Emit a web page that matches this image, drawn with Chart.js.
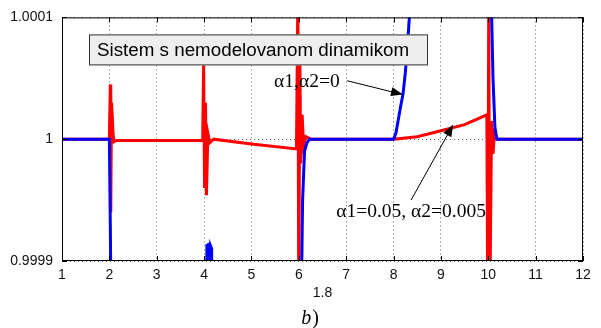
<!DOCTYPE html>
<html lang="sr">
<head>
<meta charset="UTF-8">
<title>Sistem s nemodelovanom dinamikom</title>
<script src="https://cdn.jsdelivr.net/npm/chart.js@4.4.1/dist/chart.umd.min.js"></script>
<style>
    body { margin: 0; background: #fff; }
    #wrap { position: relative; width: 601px; height: 328px; }
</style>
</head>
<body>
<div id="wrap"><canvas id="myChart"></canvas></div>
<script>
// axis ticks
const xTicks = [1, 2, 3, 4, 5, 6, 7, 8, 9, 10, 11, 12];
const yTicks = [0.9999, 1, 1.0001];

// alpha1, alpha2 = 0 (blue)
const blueX = [1, 2.0, 2.02, 2.05, 4.04, 4.06, 4.08, 4.1, 4.12, 4.14, 4.16, 4.17,
               6.03, 6.08, 6.12, 6.17, 6.23, 7, 8.0, 8.05, 8.1, 8.15, 8.2,
               8.25, 8.3, 8.35, 10.06, 10.1, 10.14, 10.18, 11, 12];
const blueY = [1, 1, 0.99993, 0.9998, 0.9998, 0.999914, 0.9998, 0.999915, 0.9998, 0.999912, 0.99991, 0.9998,
               0.9998, 0.99995, 0.99999, 0.999997, 1, 1, 1, 1.000005, 1.000016, 1.000027, 1.000037,
               1.000055, 1.00008, 1.00011, 1.00012, 1.00005, 1.00001, 1, 1, 1];

// alpha1 = 0.05, alpha2 = 0.005 (red)
const redX = [1, 2.0, 2.02, 2.03, 2.045, 2.06, 2.08, 2.1, 2.15, 3.0, 3.97,
              3.99, 4.01, 4.03, 4.05, 4.08, 4.12, 4.2, 5.0, 5.95, 5.98,
              6.0, 6.02, 6.04, 6.07, 6.1, 6.15, 6.25, 7, 8.0, 8.5,
              9.0, 9.5, 9.97, 9.99, 10.01, 10.03, 10.07, 10.1, 10.13, 10.2,
              11, 12];
const redY = [1, 1, 1.000045, 0.99994, 1.00003, 1.00002, 1.000003, 0.999998, 0.999999, 0.999999, 0.999999,
              1.000062, 0.99996, 1.00003, 0.999954, 1.000005, 0.999997, 1.0, 0.999996, 0.999992, 1.00012,
              0.99985, 1.00008, 0.99998, 1.00002, 0.999995, 1.000002, 1, 1, 1, 1.000002,
              1.000007, 1.000012, 1.00002, 0.99985, 1.00012, 0.99985, 1.000015, 0.999988, 1.000005, 1,
              1, 1];

const boxTitle = 'Sistem s nemodelovanom dinamikom';
const xAxisTitle = '1.8';
const caption = 'b';
const labelBlue = 'α1,α2=0';
const labelRed = 'α1=0.05, α2=0.005';

// annotations in data units: text position, arrow start, arrow tip
const notes = [
    { text: labelBlue, at: [6.17, 1.000047], from: [7.02, 1.000048], to: [8.2, 1.0000366] },
    { text: labelRed, at: [8.37, 0.99994], from: [8.37, 0.99995], to: [9.26, 1.000012] }
];

const toPoints = (xs, ys) => xs.map((x, i) => ({ x: x, y: ys[i] }));
const tickFont = { family: "'Liberation Sans', Arial, sans-serif", size: 14 };

const decor = {
    id: 'decor',
    afterDraw(chart) {
        const { ctx, chartArea: a, scales: { x, y } } = chart;
        ctx.save();

        // axes box and inward tick marks
        ctx.strokeStyle = '#000';
        ctx.lineWidth = 1;
        ctx.strokeRect(a.left + 0.5, a.top + 0.5, a.width - 1, a.height - 1);
        ctx.beginPath();
        xTicks.forEach(v => {
            const px = Math.round(x.getPixelForValue(v)) + 0.5;
            ctx.moveTo(px, a.bottom); ctx.lineTo(px, a.bottom - 5);
            ctx.moveTo(px, a.top); ctx.lineTo(px, a.top + 5);
        });
        yTicks.forEach(v => {
            const py = Math.round(y.getPixelForValue(v)) + 0.5;
            ctx.moveTo(a.left, py); ctx.lineTo(a.left + 5, py);
            ctx.moveTo(a.right, py); ctx.lineTo(a.right - 5, py);
        });
        ctx.stroke();

        // title box
        const bx = a.left + 27, by = a.top + 17, bw = 339, bh = 31;
        ctx.fillStyle = '#eeeeee';
        ctx.fillRect(bx, by, bw, bh);
        ctx.strokeStyle = '#333';
        ctx.strokeRect(bx + 0.5, by + 0.5, bw - 1, bh - 1);
        ctx.fillStyle = '#000';
        ctx.font = "18.8px 'Liberation Sans', Arial, sans-serif";
        ctx.textAlign = 'left';
        ctx.textBaseline = 'middle';
        ctx.fillText(boxTitle, bx + 8, by + bh / 2 + 1);

        // annotations with arrows
        ctx.font = "19.5px 'Liberation Serif', 'Times New Roman', serif";
        ctx.textAlign = 'center';
        notes.forEach(n => {
            ctx.fillStyle = '#000';
            ctx.fillText(n.text, x.getPixelForValue(n.at[0]), y.getPixelForValue(n.at[1]));
            const x0 = x.getPixelForValue(n.from[0]), y0 = y.getPixelForValue(n.from[1]);
            const x1 = x.getPixelForValue(n.to[0]), y1 = y.getPixelForValue(n.to[1]);
            const ang = Math.atan2(y1 - y0, x1 - x0);
            ctx.strokeStyle = '#000';
            ctx.lineWidth = 1;
            ctx.beginPath();
            ctx.moveTo(x0, y0);
            ctx.lineTo(x1 - 8 * Math.cos(ang), y1 - 8 * Math.sin(ang));
            ctx.stroke();
            ctx.beginPath();
            ctx.moveTo(x1, y1);
            ctx.lineTo(x1 - 12 * Math.cos(ang) + 4.5 * Math.sin(ang), y1 - 12 * Math.sin(ang) - 4.5 * Math.cos(ang));
            ctx.lineTo(x1 - 12 * Math.cos(ang) - 4.5 * Math.sin(ang), y1 - 12 * Math.sin(ang) + 4.5 * Math.cos(ang));
            ctx.closePath();
            ctx.fill();
        });

        // caption "b)"
        const cx = (a.left + a.right) / 2 - 13;
        ctx.textBaseline = 'alphabetic';
        ctx.textAlign = 'left';
        ctx.font = "italic 20px 'Liberation Serif', 'Times New Roman', serif";
        const bw2 = ctx.measureText(caption).width;
        ctx.font = "20px 'Liberation Serif', 'Times New Roman', serif";
        const pw = ctx.measureText(')').width;
        const sx = cx - (bw2 + pw) / 2;
        ctx.font = "italic 20px 'Liberation Serif', 'Times New Roman', serif";
        ctx.fillText(caption, sx, 324);
        ctx.font = "20px 'Liberation Serif', 'Times New Roman', serif";
        ctx.fillText(')', sx + bw2 + 1, 324);

        ctx.restore();
    }
};

const ctx = document.getElementById('myChart').getContext('2d');
const myChart = new Chart(ctx, {
    type: 'line',
    data: {
        datasets: [
            {
                label: labelBlue,
                data: toPoints(blueX, blueY),
                borderColor: '#0000ff',
                borderWidth: 3
            },
            {
                label: labelRed,
                data: toPoints(redX, redY),
                borderColor: '#ff0000',
                borderWidth: 3
            }
        ]
    },
    options: {
        responsive: true,
        maintainAspectRatio: false,
        animation: false,
        layout: { padding: { top: 15, right: 18, bottom: 22, left: 0 } },
        plugins: { legend: { display: false }, tooltip: { enabled: false } },
        elements: { point: { radius: 0 }, line: { tension: 0 } },
        scales: {
            x: {
                type: 'linear',
                min: 1,
                max: 12,
                afterBuildTicks: s => { s.ticks = xTicks.map(v => ({ value: v })); },
                afterFit: s => { s.height = 45; },
                grid: { color: 'rgba(0,0,0,0.6)', lineWidth: 1, drawTicks: false },
                border: { display: false, dash: [1, 3] },
                ticks: { color: '#111', font: tickFont, padding: 6, maxRotation: 0, autoSkip: false },
                title: { display: true, text: xAxisTitle, color: '#111', font: tickFont, padding: { top: 0, bottom: 4 } }
            },
            y: {
                type: 'linear',
                min: 0.9999,
                max: 1.0001,
                afterBuildTicks: s => { s.ticks = yTicks.map(v => ({ value: v })); },
                afterFit: s => { s.width = 62; },
                grid: { color: 'rgba(0,0,0,0.6)', lineWidth: 1, drawTicks: false },
                border: { display: false, dash: [1, 3] },
                ticks: {
                    color: '#111',
                    font: tickFont,
                    padding: 9,
                    callback: v => String(parseFloat(v.toFixed(4)))
                }
            }
        }
    },
    plugins: [decor]
});
</script>
</body>
</html>
